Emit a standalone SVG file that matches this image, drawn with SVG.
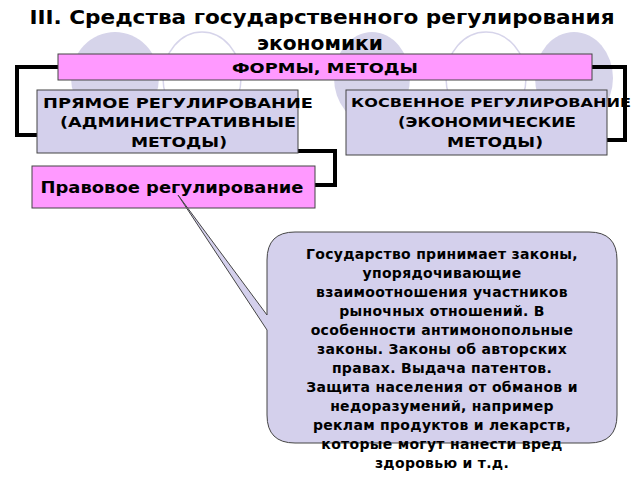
<svg xmlns="http://www.w3.org/2000/svg" width="640" height="480" viewBox="0 0 640 480">
<style>
text{font-family:"DejaVu Sans","Noto Sans",sans-serif;font-weight:bold;fill:#000;text-anchor:middle}
.pink{fill:#ff99ff;stroke:#444;stroke-width:1}
.lav{fill:#d4d0ec;stroke:#444;stroke-width:1}
.con{fill:none;stroke:#000;stroke-width:4}
</style>
<g id="bg">
<ellipse cx="115" cy="78" rx="44" ry="46" fill="#d6d4ea"/>
<ellipse cx="202" cy="78" rx="39" ry="46" fill="none" stroke="#d6d4ea" stroke-width="1.5"/>
<ellipse cx="372" cy="78" rx="38" ry="46" fill="#d6d4ea"/>
<ellipse cx="486" cy="78" rx="40" ry="46" fill="none" stroke="#d6d4ea" stroke-width="1.5"/>
<ellipse cx="574" cy="78" rx="39" ry="46" fill="#d6d4ea"/>
</g>
<g id="title">
<text x="322" y="24" font-size="19" textLength="585" lengthAdjust="spacingAndGlyphs">III. Средства государственного  регулирования</text>
<text x="320" y="50" font-size="19" textLength="126" lengthAdjust="spacingAndGlyphs">экономики</text>
</g>
<g id="connectors">
<polyline class="con" points="58,67 17,67 17,135 37,135"/>
<polyline class="con" points="592,67 625,67 625,140 607,140"/>
<polyline class="con" points="298,151 335,151 335,185 315,185"/>
</g>
<g id="forms">
<rect class="pink" x="58" y="54" width="534" height="26"/>
<text x="325" y="73" font-size="14" textLength="186" lengthAdjust="spacingAndGlyphs">ФОРМЫ, МЕТОДЫ</text>
</g>
<g id="direct">
<rect class="lav" x="37" y="90" width="261" height="63"/>
<text x="178" y="108" font-size="14" textLength="270" lengthAdjust="spacingAndGlyphs">ПРЯМОЕ РЕГУЛИРОВАНИЕ</text>
<text x="178" y="127" font-size="14" textLength="236" lengthAdjust="spacingAndGlyphs">(АДМИНИСТРАТИВНЫЕ</text>
<text x="179" y="147" font-size="14" textLength="96" lengthAdjust="spacingAndGlyphs">МЕТОДЫ)</text>
</g>
<g id="indirect">
<rect class="lav" x="346" y="90" width="261" height="65"/>
<text x="491" y="107" font-size="13" textLength="280" lengthAdjust="spacingAndGlyphs">КОСВЕННОЕ РЕГУЛИРОВАНИЕ</text>
<text x="487" y="127" font-size="14" textLength="178" lengthAdjust="spacingAndGlyphs">(ЭКОНОМИЧЕСКИЕ</text>
<text x="495" y="147" font-size="14" textLength="96" lengthAdjust="spacingAndGlyphs">МЕТОДЫ)</text>
</g>
<g id="legal">
<rect class="pink" x="32" y="166" width="283" height="42"/>
<text x="172" y="193" font-size="15" textLength="263" lengthAdjust="spacingAndGlyphs">Правовое регулирование</text>
</g>
<g id="callout">
<path d="M295,232 H589 Q617,232 617,260 V415 Q617,443 589,443 H295 Q267,443 267,415 V330 L178,195 L267,315 V260 Q267,232 295,232 Z" fill="#d4d0ec" stroke="#444" stroke-width="1"/>
<g font-size="14" letter-spacing="0.3">
<text x="442" y="259">Государство принимает законы,</text>
<text x="442" y="278">упорядочивающие</text>
<text x="442" y="297">взаимоотношения участников</text>
<text x="442" y="316">рыночных отношений. В</text>
<text x="442" y="335">особенности антимонопольные</text>
<text x="442" y="354">законы. Законы об авторских</text>
<text x="442" y="373">правах. Выдача патентов.</text>
<text x="442" y="392">Защита населения от обманов и</text>
<text x="442" y="411">недоразумений, например</text>
<text x="442" y="430">реклам продуктов и лекарств,</text>
<text x="442" y="449">которые могут нанести вред</text>
<text x="442" y="468">здоровью и т.д.</text>
</g>
</g>
</svg>
